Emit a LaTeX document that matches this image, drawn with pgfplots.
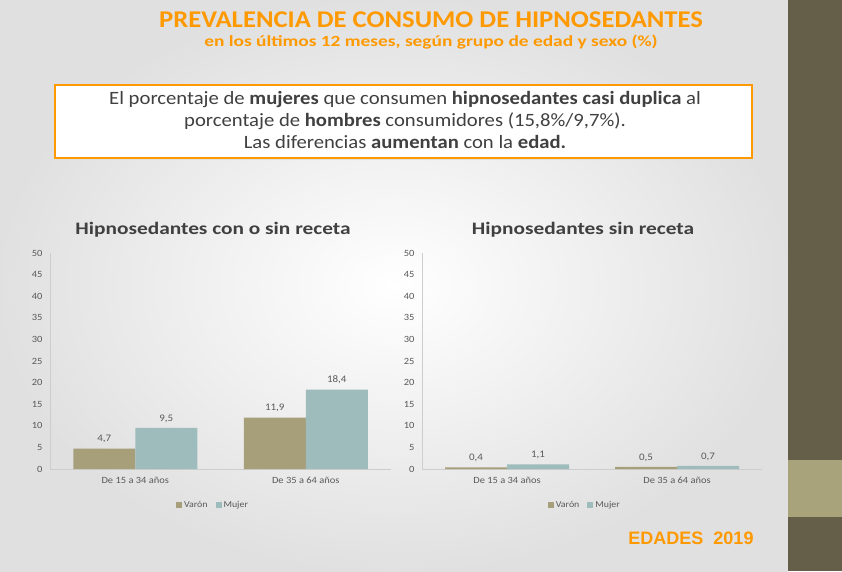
\documentclass[border=0pt]{standalone}
\usepackage{pgfplots}
\pgfplotsset{compat=1.18}
\usepackage{fontspec}
\setmainfont{Carlito}[FakeStretch=1.1]
\newfontfamily\wideA{Carlito}[FakeStretch=1.11]
\newfontfamily\wideB{Carlito}[FakeStretch=1.25]
\newfontfamily\wideC{Carlito}[FakeStretch=1.22]
\newfontfamily\lib{Liberation Sans}
\definecolor{orng}{RGB}{255,153,0}
\definecolor{varon}{RGB}{166,159,122}
\definecolor{mujer}{RGB}{158,188,188}
\definecolor{dband}{RGB}{101,94,72}
\definecolor{lband}{RGB}{168,163,123}
\definecolor{axgray}{RGB}{205,205,205}
\definecolor{txtgray}{RGB}{89,89,89}
\definecolor{boxtxt}{RGB}{64,64,64}
\pgfplotsset{
  chart/.style={
    scale only axis, anchor=south west,
    height=216pt,
    ybar=0pt, bar width=62pt,
    ymin=0, ymax=50, ytick={0,5,...,50},
    xmin=-0.5, xmax=1.5, xtick={0,1},
    xticklabels={De 15 a 34 años, De 35 a 64 años},
    axis x line*=bottom, axis y line*=left,
    axis line style={axgray, line width=0.8pt},
    major tick length=0pt,
    tick label style={font=\fontsize{9.5}{11}\selectfont, text=txtgray},
    yticklabel style={xshift=-4pt},
    xticklabel style={yshift=-5pt},
    /pgf/number format/assume math mode=true,
    nodes near coords,
    every node near coord/.append style={font=\fontsize{10}{12}\selectfont, text=txtgray, yshift=2pt},
    nodes near coords style={/pgf/number format/.cd, use comma, fixed, fixed zerofill, precision=1, assume math mode=true},
    legend style={draw=none, fill=none, font=\fontsize{9}{11}\selectfont, text=txtgray,
      legend columns=2, anchor=center,
      /tikz/every even column/.append style={column sep=6pt}},
    legend image code/.code={\fill[##1, draw=none] (0pt,-3pt) rectangle (6pt,3pt);},
  }
}
\begin{document}
\begin{tikzpicture}[x=1pt,y=1pt]
\path[use as bounding box] (0,0) rectangle (842,571);
\shade[inner color=white, outer color=black!12] (0,0) rectangle (788,571);
\fill[dband] (788,0) rectangle (842,571);
\fill[lband] (788,54) rectangle (842,111);
\node[text=orng, font=\wideA\fontsize{24}{28}\selectfont\bfseries] at (431,551) {PREVALENCIA DE CONSUMO DE HIPNOSEDANTES};
\node[text=orng, font=\wideB\fontsize{15.5}{18}\selectfont\bfseries] at (431,529) {en los últimos 12 meses, según grupo de edad y sexo (\%)};
\fill[black!12] (57,411) rectangle (754,484);
\draw[orng, line width=1.5pt, fill=white] (55,413) rectangle (752,486);
\node[text=boxtxt, font=\fontsize{18.8}{22}\selectfont] at (405,471) {El porcentaje de \textbf{mujeres} que consumen \textbf{hipnosedantes casi duplica} al};
\node[text=boxtxt, font=\fontsize{18.8}{22}\selectfont] at (405,450) {porcentaje de \textbf{hombres} consumidores (15,8\%/9,7\%).};
\node[text=boxtxt, font=\fontsize{18.8}{22}\selectfont] at (405,429) {Las diferencias \textbf{aumentan} con la \textbf{edad.}};
\node[text=boxtxt, font=\wideC\bfseries\fontsize{17.5}{20}\selectfont] at (213,341) {Hipnosedantes con o sin receta};
\node[text=boxtxt, font=\wideC\bfseries\fontsize{17.5}{20}\selectfont] at (583,341) {Hipnosedantes sin receta};
\node[text=orng, font=\lib\bfseries\fontsize{18}{21}\selectfont] at (691,33) {EDADES\ \ 2019};
\begin{axis}[chart, at={(50pt,102pt)}, width=341pt,
  legend style={at={(0.478,-0.167)}}]
\addplot[fill=varon, draw=none] coordinates {(0,4.7) (1,11.9)};
\addplot[fill=mujer, draw=none] coordinates {(0,9.5) (1,18.4)};
\legend{Varón, Mujer}
\end{axis}
\begin{axis}[chart, at={(422pt,102pt)}, width=340pt,
  legend style={at={(0.479,-0.167)}}]
\addplot[fill=varon, draw=none] coordinates {(0,0.4) (1,0.5)};
\addplot[fill=mujer, draw=none] coordinates {(0,1.1) (1,0.7)};
\legend{Varón, Mujer}
\end{axis}
\end{tikzpicture}
\end{document}
